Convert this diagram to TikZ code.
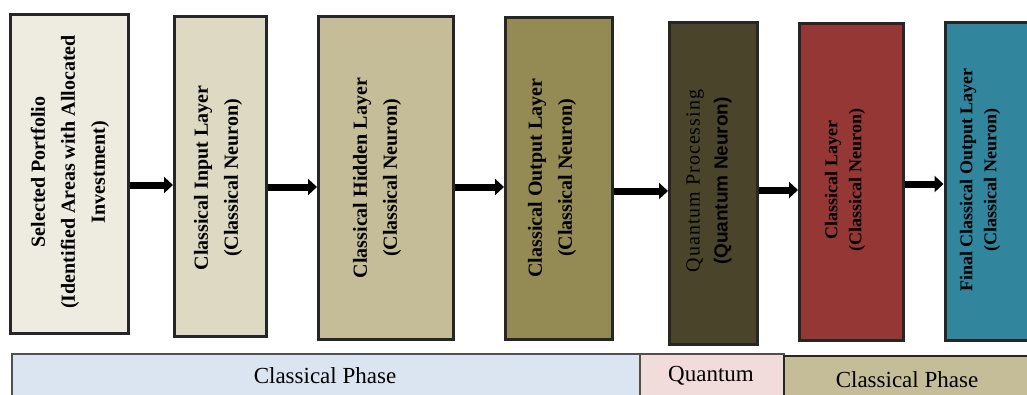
\documentclass[tikz,border=0pt]{standalone}
\usepackage{fontspec}
\setmainfont{Liberation Serif}
\newfontfamily\qsans{Liberation Sans}
\usetikzlibrary{arrows.meta}
\definecolor{cA}{HTML}{EEECE1}
\definecolor{cB}{HTML}{DDD9C3}
\definecolor{cC}{HTML}{C4BD97}
\definecolor{cD}{HTML}{948A54}
\definecolor{cE}{HTML}{4A452A}
\definecolor{cF}{HTML}{953735}
\definecolor{cG}{HTML}{31859C}
\definecolor{barblue}{HTML}{DBE5F1}
\definecolor{barpink}{HTML}{F2DCDB}
\definecolor{barolive}{HTML}{C4BD97}
\definecolor{bordc}{HTML}{262626}
\definecolor{barline}{HTML}{505050}
\begin{document}
\begin{tikzpicture}[x=1pt,y=-1pt,
  layerbox/.style={draw=bordc, line width=3pt, inner sep=0pt},
  lbl/.style={rotate=90, align=center, inner sep=0pt, text=black,
    font=\bfseries\fontsize{20}{30}\selectfont},
  lblsmall/.style={rotate=90, align=center, inner sep=0pt, text=black,
    font=\bfseries\fontsize{18}{24}\selectfont},
  arr/.style={line width=7pt, draw=black, -{Triangle[length=9pt,width=16pt]}},
  phasebar/.style={draw=barline, line width=1.5pt, inner sep=0pt},
  phasetxt/.style={anchor=base, inner sep=0pt, font=\fontsize{23}{27}\selectfont}]
\useasboundingbox (0,0) rectangle (1027,394);
\clip (0,0) rectangle (1027,394);

% phase bars
\node[phasebar, fill=barblue, minimum width=628pt, minimum height=60pt, anchor=north west] (bar1) at (11,353) {};
\node[phasebar, fill=barpink, minimum width=144pt, minimum height=60pt, anchor=north west] (bar2) at (639,353) {};
\node[phasebar, fill=barolive, draw=bordc, minimum width=260pt, minimum height=60pt, anchor=north west] (bar3) at (783,355) {};
\node[phasetxt] (ph1) at (325,383) {Classical Phase};
\node[phasetxt] (ph2) at (711,381) {Quantum};
\node[phasetxt] (ph3) at (907,387) {Classical Phase};

% layer boxes
\node[layerbox, fill=cA, minimum width=118pt, minimum height=319pt] (b1) at (69.5,174) {};
\node[layerbox, fill=cB, minimum width=92pt, minimum height=320pt] (b2) at (220.5,176.5) {};
\node[layerbox, fill=cC, minimum width=135pt, minimum height=323pt] (b3) at (386,178) {};
\node[layerbox, fill=cD, minimum width=107pt, minimum height=322pt] (b4) at (559,178.5) {};
\node[layerbox, fill=cE, minimum width=88pt, minimum height=322pt] (b5) at (713.5,183.5) {};
\node[layerbox, fill=cF, minimum width=104pt, minimum height=317pt] (b6) at (851.5,182) {};
\node[layerbox, fill=cG, minimum width=110pt, minimum height=318pt, anchor=west] (b7) at (943.5,181.5) {};

% labels
\node[lbl] (t1) at (70,172) {Selected Portfolio\\(Identified Areas with Allocated\\Investment)};
\node[lbl] (t2) at (218,178) {Classical Input Layer\\(Classical Neuron)};
\node[lbl] (t3) at (377,178) {Classical Hidden Layer\\(Classical Neuron)};
\node[lbl] (t4) at (552,178) {Classical Output Layer\\(Classical Neuron)};
\node[rotate=90, align=center, inner sep=0pt, text=black, font=\fontsize{20}{28}\selectfont] (t5) at (709,181)
  {{\addfontfeatures{LetterSpace=5}Quantum Processing}\\{\qsans\bfseries\fontsize{19}{28}\selectfont (Quantum Neuron)}};
\node[lblsmall] (t6) at (845,180) {Classical Layer\\(Classical Neuron)};
\node[lblsmall] (t7) at (980,180) {Final Classical Output Layer\\(Classical Neuron)};

% connectors
\draw[arr] (b1.east |- 0,185) -- (b2.west |- 0,185);
\draw[arr] (b2.east |- 0,187) -- (b3.west |- 0,187);
\draw[arr] (b3.east |- 0,187) -- (b4.west |- 0,187);
\draw[arr] (b4.east |- 0,191) -- (b5.west |- 0,191);
\draw[arr] (b5.east |- 0,190) -- (b6.west |- 0,190);
\draw[arr] (b6.east |- 0,184) -- (b7.west |- 0,184);
\end{tikzpicture}
\end{document}
